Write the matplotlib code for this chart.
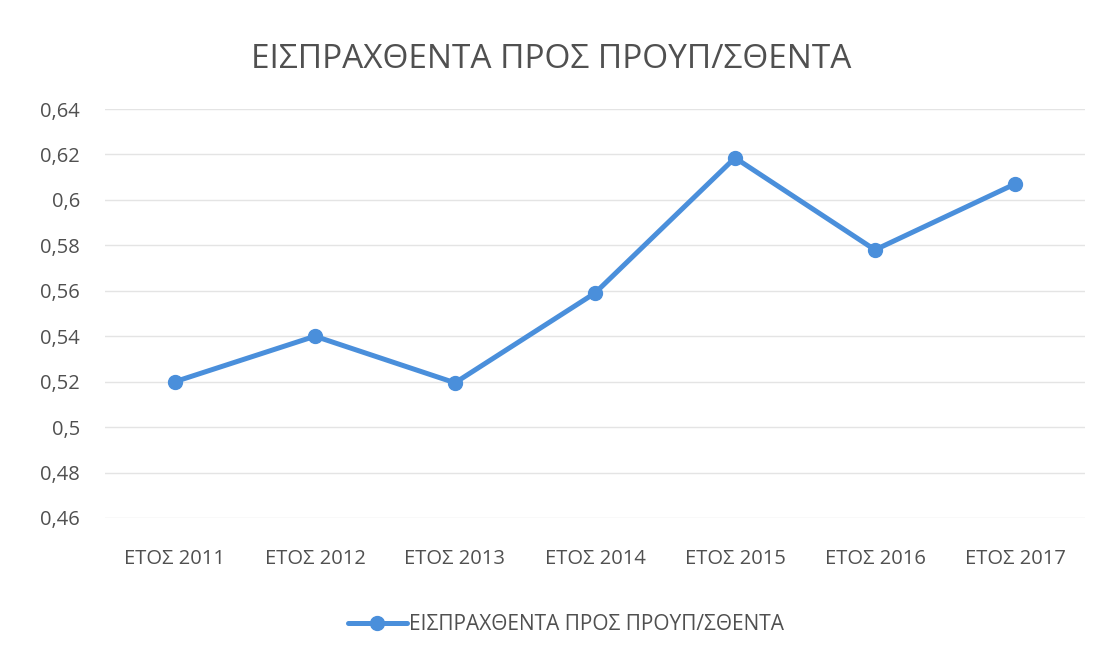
import matplotlib
matplotlib.use("Agg")
import matplotlib.pyplot as plt
from matplotlib.ticker import FixedLocator

plt.rcParams["font.family"] = ["Open Sans", "DejaVu Sans"]

years = ["ΕΤΟΣ 2011", "ΕΤΟΣ 2012", "ΕΤΟΣ 2013", "ΕΤΟΣ 2014", "ΕΤΟΣ 2015", "ΕΤΟΣ 2016", "ΕΤΟΣ 2017"]
ratio = [0.520, 0.540, 0.5195, 0.559, 0.6185, 0.578, 0.607]
yticks = [0.46, 0.48, 0.50, 0.52, 0.54, 0.56, 0.58, 0.60, 0.62, 0.64]
ytick_labels = ["0,46", "0,48", "0,5", "0,52", "0,54", "0,56", "0,58", "0,6", "0,62", "0,64"]
series_name = "ΕΙΣΠΡΑΧΘΕΝΤΑ ΠΡΟΣ ΠΡΟΥΠ/ΣΘΕΝΤΑ"

text_c = "#505050"
line_c = "#4a8fdb"

fig = plt.figure(figsize=(11.03, 6.59), dpi=100)
ax = fig.add_axes([105 / 1103, 1 - 518 / 659, 980 / 1103, (518 - 109) / 659])

x = list(range(len(years)))
ax.plot(x, ratio, color=line_c, lw=3.6, marker="o", ms=10,
        solid_capstyle="round", label=series_name)

ax.set_xlim(-0.5, len(years) - 0.5)
ax.set_ylim(0.46, 0.64)
ax.yaxis.set_major_locator(FixedLocator(yticks))
ax.set_yticklabels(ytick_labels)
ax.set_xticks(x)
ax.set_xticklabels(years)
ax.grid(axis="y", color="#e4e4e4", lw=1)
ax.set_axisbelow(True)
for s in ax.spines.values():
    s.set_visible(False)
ax.tick_params(length=0, labelsize=14.5, labelcolor=text_c)
ax.tick_params(axis="y", pad=18)
ax.tick_params(axis="x", pad=22)

fig.text(0.5, 1 - 60 / 659, series_name, ha="center", va="center",
         fontsize=24, color=text_c)

fig.legend(loc="center", bbox_to_anchor=(566 / 1103, 1 - 625 / 659), frameon=False,
           fontsize=15, labelcolor=text_c, handlelength=2.8, handletextpad=0.1)

fig.savefig("out.png", dpi=100, facecolor="white")
